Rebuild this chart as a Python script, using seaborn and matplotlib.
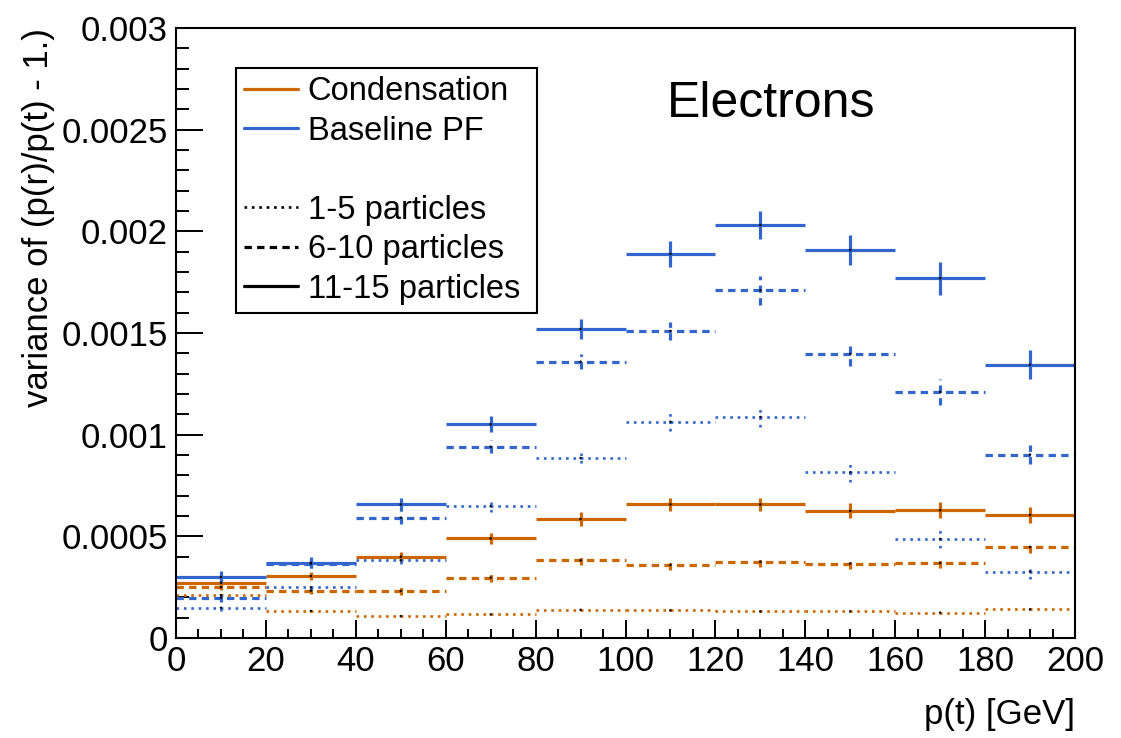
import numpy as np
import pandas as pd
import matplotlib
matplotlib.use("Agg")
import matplotlib.pyplot as plt
from matplotlib.lines import Line2D
from matplotlib.ticker import FixedLocator, FixedFormatter, MultipleLocator
import seaborn as sns

# ---- data: variance of p(r)/p(t) - 1 per 20 GeV bin of p(t) ----
bin_centers = [10, 30, 50, 70, 90, 110, 130, 150, 170, 190]
bin_half_width = 10

cond_1_5 = [0.000211, 0.000133, 0.000108, 0.000116, 0.000139, 0.000136, 0.000131, 0.000131, 0.000125, 0.000141]
cond_6_10 = [0.000250, 0.000233, 0.000231, 0.000297, 0.000382, 0.000359, 0.000375, 0.000366, 0.000369, 0.000448]
cond_11_15 = [0.000272, 0.000305, 0.000400, 0.000490, 0.000585, 0.000657, 0.000657, 0.000625, 0.000628, 0.000605]
base_1_5 = [0.000149, 0.000249, 0.000382, 0.000648, 0.000885, 0.001064, 0.001087, 0.000815, 0.000487, 0.000326]
base_6_10 = [0.000198, 0.000365, 0.000592, 0.000941, 0.001359, 0.001510, 0.001710, 0.001397, 0.001210, 0.000902]
base_11_15 = [0.000300, 0.000370, 0.000657, 0.001051, 0.001520, 0.001889, 0.002031, 0.001908, 0.001769, 0.001344]

cond_1_5_err = [0.000005, 0.000004, 0.000004, 0.000004, 0.000005, 0.000005, 0.000005, 0.000005, 0.000005, 0.000005]
cond_6_10_err = [0.000015, 0.000015, 0.000018, 0.000020, 0.000022, 0.000025, 0.000025, 0.000028, 0.000025, 0.000028]
cond_11_15_err = [0.000020, 0.000020, 0.000025, 0.000028, 0.000035, 0.000030, 0.000030, 0.000037, 0.000040, 0.000040]
base_1_5_err = [0.000014, 0.000012, 0.000020, 0.000027, 0.000026, 0.000047, 0.000050, 0.000050, 0.000042, 0.000035]
base_6_10_err = [0.000020, 0.000020, 0.000033, 0.000033, 0.000038, 0.000042, 0.000070, 0.000060, 0.000065, 0.000045]
base_11_15_err = [0.000030, 0.000026, 0.000030, 0.000040, 0.000050, 0.000063, 0.000069, 0.000075, 0.000080, 0.000070]

ytick_values = [0, 0.0005, 0.001, 0.0015, 0.002, 0.0025, 0.003]
ytick_labels = ["0", "0.0005", "0.001", "0.0015", "0.002", "0.0025", "0.003"]
xtick_values = [0, 20, 40, 60, 80, 100, 120, 140, 160, 180, 200]
xtick_labels = ["0", "20", "40", "60", "80", "100", "120", "140", "160", "180", "200"]

ORANGE = "#cc6600"
BLUE = "#3366cc"

styles = {
    "1-5 particles": dict(ls=(0, (1.0, 1.8)), lw=1.9),
    "6-10 particles": dict(ls=(0, (2.3, 1.65)), lw=2.3),
    "11-15 particles": dict(ls="-", lw=2.3),
}

series = [
    ("Condensation", "1-5 particles", cond_1_5, cond_1_5_err, ORANGE),
    ("Condensation", "6-10 particles", cond_6_10, cond_6_10_err, ORANGE),
    ("Condensation", "11-15 particles", cond_11_15, cond_11_15_err, ORANGE),
    ("Baseline PF", "1-5 particles", base_1_5, base_1_5_err, BLUE),
    ("Baseline PF", "6-10 particles", base_6_10, base_6_10_err, BLUE),
    ("Baseline PF", "11-15 particles", base_11_15, base_11_15_err, BLUE),
]

rows = []
for algo, mult, vals, errs, _ in series:
    for c, v, e in zip(bin_centers, vals, errs):
        rows.append(dict(algo=algo, mult=mult, pt=c, var=v, err=e))
df = pd.DataFrame(rows)

sns.set_style("ticks")
plt.rcParams["font.family"] = ["Liberation Sans", "DejaVu Sans"]
plt.rcParams["text.color"] = "black"
plt.rcParams["axes.labelcolor"] = "black"
plt.rcParams["xtick.color"] = "black"
plt.rcParams["ytick.color"] = "black"

fig = plt.figure(figsize=(11.21, 7.38), dpi=100)
ax = fig.add_axes([176 / 1121, 1 - 638 / 738, 899 / 1121, 610 / 738])

for algo, mult, vals, errs, color in series:
    sub = df[(df.algo == algo) & (df.mult == mult)]
    st = styles[mult]
    eb = ax.errorbar(sub.pt, sub["var"], xerr=bin_half_width, yerr=sub.err,
                     fmt="none", ecolor=color, elinewidth=st["lw"], capsize=0)
    for coll in eb[2]:
        coll.set_linestyle(st["ls"])
        coll.set_capstyle("butt")

# bin-centre markers
sns.scatterplot(data=df, x="pt", y="var", ax=ax, color="black", s=3,
                edgecolor="none", legend=False, zorder=5)

ax.set_xlim(0, 200)
ax.set_ylim(0, 0.003)

ax.xaxis.set_major_locator(FixedLocator(xtick_values))
ax.xaxis.set_major_formatter(FixedFormatter(xtick_labels))
ax.xaxis.set_minor_locator(MultipleLocator(5))
ax.yaxis.set_major_locator(FixedLocator(ytick_values))
ax.yaxis.set_major_formatter(FixedFormatter(ytick_labels))
ax.yaxis.set_minor_locator(MultipleLocator(0.0001))

ax.tick_params(axis="both", which="both", direction="in", colors="black",
               labelcolor="black", width=1.4, labelsize=25)
ax.tick_params(axis="x", which="major", length=13, pad=5)
ax.tick_params(axis="x", which="minor", length=6.5)
ax.tick_params(axis="y", which="major", length=19.5, pad=6)
ax.tick_params(axis="y", which="minor", length=9.5)

for sp in ax.spines.values():
    sp.set_visible(True)
    sp.set_linewidth(1.5)
    sp.set_color("black")

ax.set_xlabel("p(t) [GeV]", fontsize=25, loc="right", color="black")
ax.xaxis.set_label_coords(1.0, -0.098)
ax.set_ylabel("variance of (p(r)/p(t) - 1.)", fontsize=25, loc="top", color="black")
ax.yaxis.set_label_coords(-0.1346, 1.0)

ax.text(0.662, 0.854, "Electrons", transform=ax.transAxes, fontsize=36,
        ha="center", va="baseline", color="black")

handles = [
    Line2D([], [], color=ORANGE, lw=2.3),
    Line2D([], [], color=BLUE, lw=2.3),
    Line2D([], [], color="none"),
    Line2D([], [], color="black", lw=1.9, ls=styles["1-5 particles"]["ls"]),
    Line2D([], [], color="black", lw=2.3, ls=styles["6-10 particles"]["ls"]),
    Line2D([], [], color="black", lw=2.3),
]
labels = ["Condensation", "Baseline PF", " ", "1-5 particles", "6-10 particles", "11-15 particles"]
leg = ax.legend(handles, labels, loc="upper left",
                bbox_to_anchor=(0.0667, 0.533, 0.335, 0.401), mode="expand",
                borderaxespad=0, fontsize=23.5, frameon=True, fancybox=False,
                edgecolor="black", framealpha=1, handlelength=1.65,
                handletextpad=0.3, labelspacing=0.26, borderpad=0.25)
leg.get_frame().set_linewidth(1.5)
for t in leg.get_texts():
    t.set_color("black")

fig.savefig("out.png", dpi=100)
